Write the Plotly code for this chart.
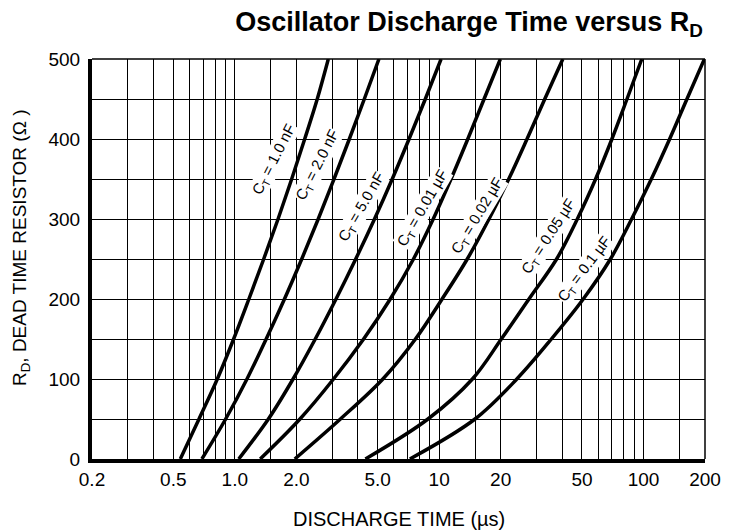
import plotly.graph_objects as go
import numpy as np

# dead time resistor values (ohm), shared by all curves
R_OHMS = [0, 50, 100, 150, 200, 250, 300, 350, 400, 450, 500]

# discharge time (us) at the R values above
T_1N0 = [0.541, 0.668, 0.821, 0.987, 1.172, 1.385, 1.628, 1.898, 2.198, 2.532, 2.868]
T_2N0 = [0.690, 0.902, 1.147, 1.424, 1.750, 2.126, 2.560, 3.058, 3.635, 4.303, 5.074]
T_5N0 = [1.045, 1.460, 1.928, 2.476, 3.128, 3.906, 4.827, 5.896, 7.124, 8.557, 10.22]
T_10N = [1.331, 2.084, 3.041, 4.270, 5.766, 7.488, 9.354, 11.43, 13.81, 16.59, 19.93]
T_20N = [1.965, 3.288, 5.304, 7.657, 10.34, 13.73, 17.54, 21.91, 26.92, 32.88, 40.30]
T_50N = [4.356, 8.819, 14.55, 20.15, 27.52, 37.58, 47.46, 58.31, 70.06, 83.05, 98.13]
T_100N = [7.188, 14.98, 24.00, 35.43, 50.74, 68.92, 87.50, 109.3, 134.3, 163.2, 198.7]

CURVES = [T_1N0, T_2N0, T_5N0, T_10N, T_20N, T_50N, T_100N]

LABELS = ['C<sub>T</sub> = 1.0 nF', 'C<sub>T</sub> = 2.0 nF', 'C<sub>T</sub> = 5.0 nF',
          'C<sub>T</sub> = 0.01 \u00b5F', 'C<sub>T</sub> = 0.02 \u00b5F',
          'C<sub>T</sub> = 0.05 \u00b5F', 'C<sub>T</sub> = 0.1 \u00b5F']

# label placement (us, ohm) and angle
LABEL_POS = [(1.56, 374, -63), (2.55, 368, -63), (4.15, 315, -60), (8.37, 314, -60),
             (15.4, 305, -59), (34.4, 278, -57), (51.3, 237, -53)]

X_TICKS = [0.2, 0.5, 1, 2, 5, 10, 20, 50, 100, 200]
X_TICKTEXT = ['0.2', '0.5', '1.0', '2.0', '5.0', '10', '20', '50', '100', '200']
X_GRID = [0.3, 0.4, 0.6, 0.7, 0.8, 0.9, 1.5, 3, 4, 6, 7, 8, 9,
          15, 30, 40, 60, 70, 80, 90, 150]
Y_TICKS = [0, 100, 200, 300, 400, 500]

FONT = 'Liberation Sans, Arial, sans-serif'

fig = go.Figure()
for t in CURVES:
    fig.add_trace(go.Scatter(
        x=t, y=R_OHMS, mode='lines',
        line=dict(color='black', width=3.5, shape='spline', smoothing=1.0),
        showlegend=False, hoverinfo='skip'
    ))

for txt, (lx, ly, ang) in zip(LABELS, LABEL_POS):
    fig.add_annotation(
        x=np.log10(lx), y=ly, xref='x', yref='y', text=txt, showarrow=False,
        textangle=ang, font=dict(size=15, color='black', family=FONT),
        bgcolor='white', borderpad=0
    )

fig.update_xaxes(
    type='log', range=[np.log10(0.2), np.log10(200)],
    tickmode='array', tickvals=X_TICKS, ticktext=X_TICKTEXT,
    ticks='', tickfont=dict(size=19, color='black'),
    showgrid=True, gridcolor='black', gridwidth=1,
    minor=dict(tickmode='array', tickvals=X_GRID, showgrid=True,
               gridcolor='black', gridwidth=1, ticks=''),
    showline=True, linecolor='black', linewidth=4, zeroline=False
)
fig.update_yaxes(
    range=[0, 500], tickmode='array', tickvals=Y_TICKS,
    ticks='', tickfont=dict(size=19, color='black'), ticklabelstandoff=4,
    showgrid=True, gridcolor='black', gridwidth=1,
    minor=dict(dtick=50, showgrid=True, gridcolor='black', gridwidth=1, ticks=''),
    showline=True, linecolor='black', linewidth=4, zeroline=False
)

# axis titles
fig.add_annotation(x=0.5, y=0, xref='paper', yref='paper', yshift=-60,
                   text='DISCHARGE TIME (\u00b5s)', showarrow=False,
                   xanchor='center', yanchor='middle',
                   font=dict(size=20, color='black', family=FONT))
fig.add_annotation(x=0, y=0.5275, xref='paper', yref='paper', xshift=-71,
                   text='R<sub>D</sub>, DEAD TIME RESISTOR (\u03a9 )', showarrow=False,
                   textangle=-90, xanchor='center', yanchor='middle',
                   font=dict(size=19, color='black', family=FONT))

# thin top and right frame
fig.add_shape(type='line', xref='paper', yref='paper', x0=0, x1=1, y0=1, y1=1,
              line=dict(color='black', width=1.5))
fig.add_shape(type='line', xref='paper', yref='paper', x0=1, x1=1, y0=0, y1=1,
              line=dict(color='black', width=1.5))

# page body adds 8px offset, so the figure is sized to the remaining area
fig.update_layout(
    width=725, height=524,
    margin=dict(l=84, r=20, t=51, b=73),
    paper_bgcolor='white', plot_bgcolor='white',
    font=dict(family=FONT, color='black'),
    title=dict(text='<b>Oscillator Discharge Time versus R<sub>D</sub></b>',
               x=0.9586, xanchor='right', xref='container',
               y=0.974, yanchor='middle', yref='container',
               font=dict(size=27, color='black', family=FONT))
)

fig.write_html('out.html')
